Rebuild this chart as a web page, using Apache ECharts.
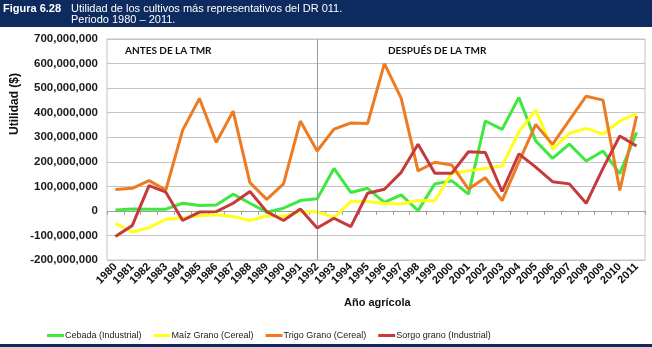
<!DOCTYPE html>
<html>
<head>
<meta charset="utf-8">
<title>Utilidad de los cultivos</title>
<script src="https://cdn.jsdelivr.net/npm/echarts@6/dist/echarts.min.js"></script>
<style>
  html, body { margin: 0; padding: 0; background: #fff; }
  #main { width: 652px; height: 347px; }
</style>
</head>
<body>
<div id="main"></div>
<script>
// datos del grafico
var years = ['1980', '1981', '1982', '1983', '1984', '1985', '1986', '1987', '1988', '1989',
    '1990', '1991', '1992', '1993', '1994', '1995', '1996', '1997', '1998', '1999',
    '2000', '2001', '2002', '2003', '2004', '2005', '2006', '2007', '2008', '2009',
    '2010', '2011'];

var cebada = [4, 8, 7, 7, 31, 22, 24, 68, 31, -5,
    11, 42, 49, 173, 75, 92, 35, 65, 1, 110,
    123, 68, 366, 332, 462, 285, 214, 272, 203, 244,
    152, 320];
var maiz = [-51, -87, -68, -34, -28, -20, -16, -23, -39, -20,
    -23, -2, -4, -27, 38, 38, 30, 29, 42, 41,
    153, 163, 173, 183, 322, 410, 251, 316, 336, 313,
    366, 396];
var trigo = [87, 92, 123, 85, 329, 458, 279, 406, 115, 47,
    110, 366, 244, 333, 358, 356, 600, 458, 163, 198,
    187, 89, 135, 42, 200, 352, 271, 370, 467, 451,
    83, 386];
var sorgo = [-104, -60, 103, 76, -39, -5, -3, 31, 79, -3,
    -39, 8, -70, -30, -64, 72, 88, 157, 271, 153,
    153, 241, 238, 79, 232, 178, 119, 110, 31, 173,
    305, 264];

var seriesNames = ['Cebada (Industrial)', 'Maíz Grano (Cereal)', 'Trigo Grano (Cereal)', 'Sorgo grano (Industrial)'];
var seriesColors = ['#3fe83f', '#ffff1a', '#ee7a22', '#c63a3c'];
var corte = '1992';

// millones -> pesos
function toPesos(arr) {
    var res = [];
    for (var i = 0; i < arr.length; i++) {
        res.push(arr[i] * 1000000);
    }
    return res;
}

function fmt(v) {
    if (v === 0) return '0';
    var s = Math.abs(v).toString().replace(/\B(?=(\d{3})+(?!\d))/g, ',');
    return (v < 0 ? '-' : '') + s;
}

var navy = '#0d2b5e';
var gridGray = '#c4c4c4';
var arial = 'Liberation Sans, Arial, sans-serif';

var valores = [cebada, maiz, trigo, sorgo];
var series = [];
for (var i = 0; i < valores.length; i++) {
    var s = {
        name: seriesNames[i],
        type: 'line',
        data: toPesos(valores[i]),
        showSymbol: false,
        symbol: 'none',
        lineStyle: { width: 3, color: seriesColors[i] },
        itemStyle: { color: seriesColors[i] },
        z: 3 + i
    };
    if (i === 0) {
        s.markLine = {
            silent: true,
            symbol: 'none',
            label: { show: false },
            lineStyle: { color: '#9a9a9a', width: 1, type: 'solid' },
            data: [{ xAxis: corte }]
        };
    }
    series.push(s);
}

var option = {
    animation: false,
    backgroundColor: '#fff',
    textStyle: { fontFamily: arial },
    grid: {
        left: 107, right: 7, top: 39, bottom: 87,
        show: true, borderColor: gridGray, borderWidth: 1, backgroundColor: 'transparent'
    },
    legend: {
        left: 42, top: 326,
        itemWidth: 17, itemHeight: 3, itemGap: 12,
        icon: 'rect',
        textStyle: {
            fontSize: 9, color: '#222', padding: [0, 0, 0, -4],
            fontFamily: arial
        },
        data: seriesNames
    },
    xAxis: [{
        type: 'category',
        data: years,
        boundaryGap: true,
        position: 'bottom',
        axisLine: { show: false, onZero: false },
        axisTick: { show: false },
        axisLabel: {
            interval: 0, rotate: 45, margin: 5,
            fontSize: 11, fontWeight: 'bold', color: '#111'
        },
        splitLine: { show: false }
    }, {
        type: 'category',
        data: years,
        boundaryGap: true,
        position: 'bottom',
        axisLine: { show: true, onZero: true, lineStyle: { color: '#a0a0a0', width: 1 } },
        axisTick: { show: true, length: 4, interval: 0, lineStyle: { color: '#a0a0a0' } },
        axisLabel: { show: false },
        splitLine: { show: false }
    }],
    yAxis: {
        type: 'value',
        min: -200000000,
        max: 700000000,
        interval: 100000000,
        axisLine: { show: false },
        axisTick: { show: false },
        axisLabel: {
            margin: 9, fontSize: 11.5, fontWeight: 'bold', color: '#1a1a1a',
            formatter: fmt
        },
        splitLine: { show: true, lineStyle: { color: gridGray, width: 1 } }
    },
    graphic: [
        { type: 'rect', left: 0, top: 0, shape: { width: 652, height: 27 }, style: { fill: navy } },
        { type: 'rect', left: 0, top: 344, shape: { width: 652, height: 3 }, style: { fill: navy } },
        { type: 'text', left: 3, top: 3, style: { text: 'Figura 6.28', fill: '#fff', font: 'bold 11px ' + arial } },
        { type: 'text', left: 71, top: 3, style: { text: 'Utilidad de los cultivos más representativos del DR 011.', fill: '#fff', font: '11px ' + arial } },
        { type: 'text', left: 71, top: 14, style: { text: 'Periodo 1980 – 2011.', fill: '#fff', font: '11px ' + arial } },
        { type: 'text', left: 125, top: 46, style: { text: 'ANTES DE LA TMR', fill: '#111', font: 'bold 10px Lato, Open Sans, sans-serif' } },
        { type: 'text', left: 388, top: 46, style: { text: 'DESPUÉS DE LA TMR', fill: '#111', font: 'bold 10px Lato, Open Sans, sans-serif' } },
        { type: 'text', left: 344, top: 297, style: { text: 'Año agrícola', fill: '#111', font: 'bold 11px ' + arial } },
        {
            type: 'text', x: 9, y: 135, rotation: Math.PI / 2,
            style: { text: 'Utilidad ($)', fill: '#111', font: 'bold 12px ' + arial }
        }
    ],
    series: series
};

var chart = echarts.init(document.getElementById('main'), null, { renderer: 'canvas' });
chart.setOption(option, true);
</script>
</body>
</html>
